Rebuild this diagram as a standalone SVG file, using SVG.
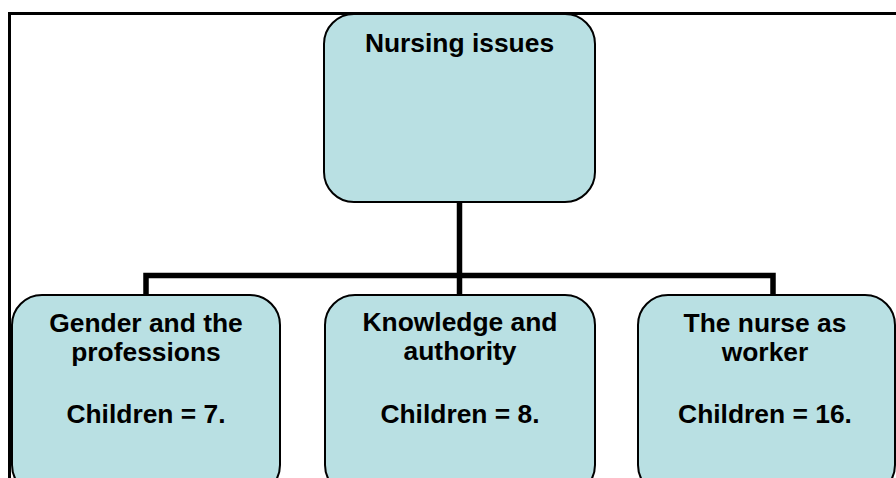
<svg xmlns="http://www.w3.org/2000/svg" width="896" height="478" viewBox="0 0 896 478">
<style>
.node{fill:#b9e0e3;stroke:#000;stroke-width:2}
.t{font-family:"Liberation Sans",Arial,sans-serif;font-weight:bold;font-size:26.4px;fill:#000;text-anchor:middle}
.c{fill:none;stroke:#000;stroke-width:5.5;stroke-linejoin:miter}
</style>
<rect x="0" y="0" width="896" height="478" fill="#fff"/>
<path d="M9.5 480 V13.5 H900" fill="none" stroke="#000" stroke-width="3"/>
<g id="connectors">
<path class="c" d="M459.5 202 V295"/>
<path class="c" d="M146 295 V275.5 H773 V295"/>
</g>
<g id="root">
<rect class="node" x="324" y="14" width="271" height="188" rx="30" ry="30"/>
<text class="t" x="459.5" y="51.5">Nursing issues</text>
</g>
<g id="gender">
<rect class="node" x="12" y="295" width="268" height="200" rx="30" ry="30"/>
<text class="t" x="146" y="332">Gender and the</text>
<text class="t" x="146" y="361">professions</text>
<text class="t" x="146" y="423">Children = 7.</text>
</g>
<g id="knowledge">
<rect class="node" x="325" y="295" width="270" height="200" rx="30" ry="30"/>
<text class="t" x="460" y="331">Knowledge and</text>
<text class="t" x="460" y="360">authority</text>
<text class="t" x="460" y="423">Children = 8.</text>
</g>
<g id="worker">
<rect class="node" x="638" y="295" width="257" height="200" rx="30" ry="30"/>
<text class="t" x="765" y="332">The nurse as</text>
<text class="t" x="765" y="361">worker</text>
<text class="t" x="765" y="423">Children = 16.</text>
</g>
</svg>
